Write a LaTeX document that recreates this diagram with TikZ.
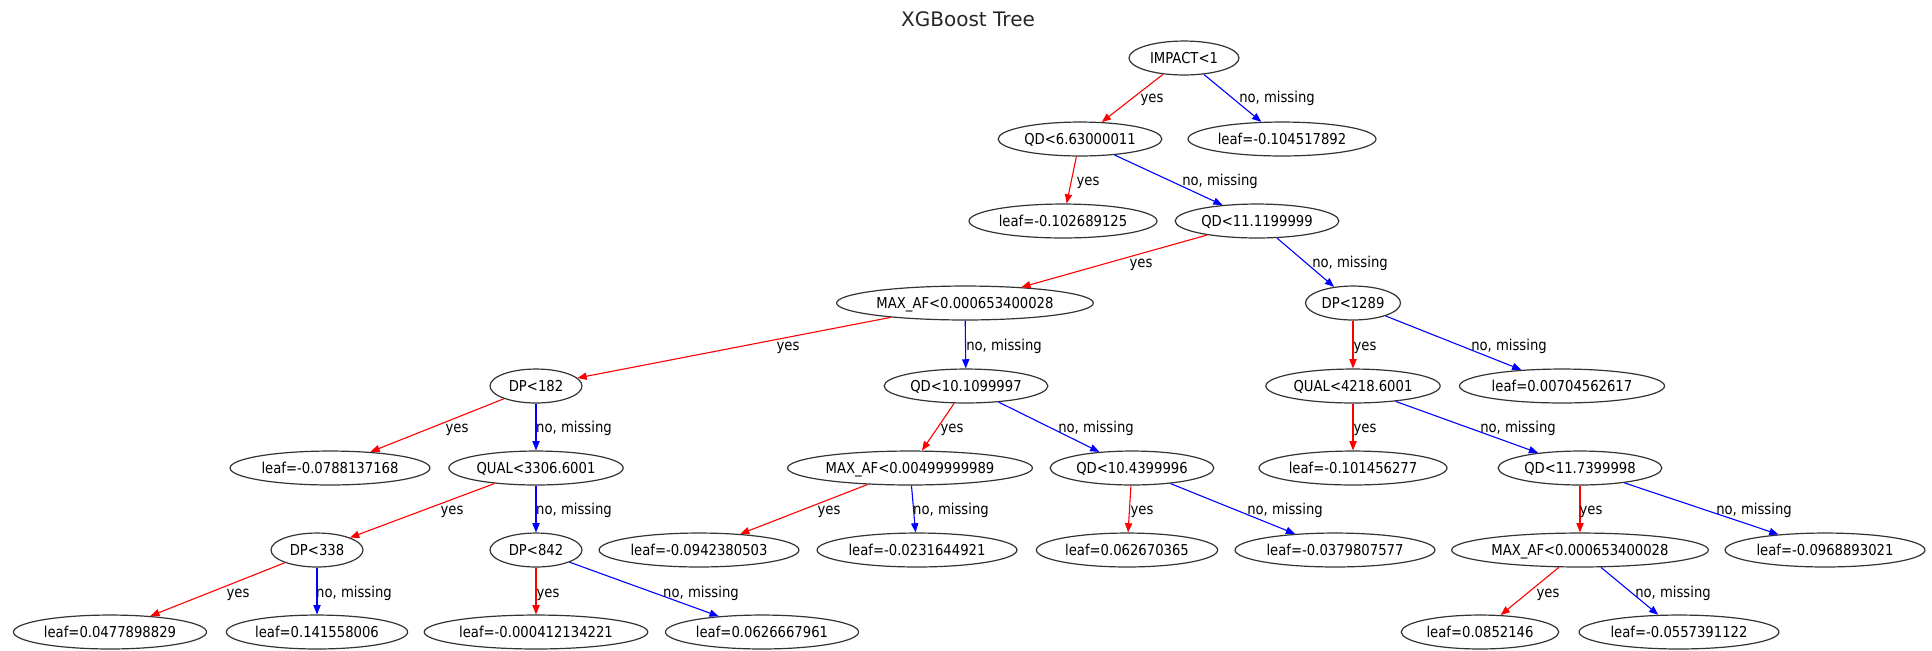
\documentclass[tikz,border=0pt]{standalone}
\usepackage{fontspec}
\setmainfont{DejaVu Sans}
\newfontfamily\gvfont[FakeStretch=0.88]{DejaVu Sans}
\usetikzlibrary{arrows.meta,shapes.geometric}
\begin{document}
\begin{tikzpicture}[x=0.5pt,y=-0.5pt,
  nd/.style={ellipse,draw=black!80,line width=0.6pt,inner xsep=1.1pt,inner ysep=1pt,
    minimum height=16.5pt,minimum width=46pt,text height=0.76em,text depth=0.24em,
    font=\gvfont\fontsize{7.5}{9}\selectfont},
  yesE/.style={draw=red,line width=0.55pt,-{Triangle[length=4.6pt,width=3.6pt,fill=red]}},
  noE/.style={draw=blue,line width=0.55pt,-{Triangle[length=4.6pt,width=3.6pt,fill=blue]}},
  lbl/.style={font=\gvfont\fontsize{7.5}{9}\selectfont,inner sep=0pt,text height=0.76em,text depth=0.24em}]
\useasboundingbox (0,0) rectangle (1932,650);
\node[font=\fontsize{10}{12}\selectfont,text=black!85] (title) at (968,19) {XGBoost Tree};
% nodes
\node[nd,minimum width=55pt] (n0) at (1184,58) {IMPACT<1};
\node[nd] (n1) at (1080,139) {QD<6.63000011};
\node[nd] (n2) at (1282,139) {leaf=-0.104517892};
\node[nd] (n3) at (1063,221) {leaf=-0.102689125};
\node[nd] (n4) at (1257,221) {QD<11.1199999};
\node[nd] (n5) at (965,303) {MAX\_AF<0.000653400028};
\node[nd] (n6) at (1353,303) {DP<1289};
\node[nd] (n7) at (536,386) {DP<182};
\node[nd] (n8) at (966,386) {QD<10.1099997};
\node[nd] (n9) at (1353,386) {QUAL<4218.6001};
\node[nd] (n10) at (1562,386) {leaf=0.00704562617};
\node[nd] (n11) at (330,468) {leaf=-0.0788137168};
\node[nd] (n12) at (536,468) {QUAL<3306.6001};
\node[nd] (n13) at (910,468) {MAX\_AF<0.00499999989};
\node[nd] (n14) at (1132,468) {QD<10.4399996};
\node[nd] (n15) at (1353,468) {leaf=-0.101456277};
\node[nd] (n16) at (1580,468) {QD<11.7399998};
\node[nd] (n17) at (317,550) {DP<338};
\node[nd] (n18) at (536,550) {DP<842};
\node[nd] (n19) at (699,550) {leaf=-0.0942380503};
\node[nd] (n20) at (917,550) {leaf=-0.0231644921};
\node[nd] (n21) at (1127,550) {leaf=0.062670365};
\node[nd] (n22) at (1335,550) {leaf=-0.0379807577};
\node[nd] (n23) at (1580,550) {MAX\_AF<0.000653400028};
\node[nd] (n24) at (1825,550) {leaf=-0.0968893021};
\node[nd] (n25) at (110,632) {leaf=0.0477898829};
\node[nd] (n26) at (317,632) {leaf=0.141558006};
\node[nd] (n27) at (536,632) {leaf=-0.000412134221};
\node[nd] (n28) at (762,632) {leaf=0.0626667961};
\node[nd] (n29) at (1480,632) {leaf=0.0852146};
\node[nd] (n30) at (1679,632) {leaf=-0.0557391122};
% edges
\draw[yesE] (n0) -- (n1); \draw[noE] (n0) -- (n2);
\draw[yesE] (n1) -- (n3); \draw[noE] (n1) -- (n4);
\draw[yesE] (n4) -- (n5); \draw[noE] (n4) -- (n6);
\draw[yesE] (n5) -- (n7); \draw[noE] (n5) -- (n8);
\draw[yesE] (n6) -- (n9); \draw[noE] (n6) -- (n10);
\draw[yesE] (n7) -- (n11); \draw[noE] (n7) -- (n12);
\draw[yesE] (n8) -- (n13); \draw[noE] (n8) -- (n14);
\draw[yesE] (n9) -- (n15); \draw[noE] (n9) -- (n16);
\draw[yesE] (n12) -- (n17); \draw[noE] (n12) -- (n18);
\draw[yesE] (n13) -- (n19); \draw[noE] (n13) -- (n20);
\draw[yesE] (n14) -- (n21); \draw[noE] (n14) -- (n22);
\draw[yesE] (n16) -- (n23); \draw[noE] (n16) -- (n24);
\draw[yesE] (n17) -- (n25); \draw[noE] (n17) -- (n26);
\draw[yesE] (n18) -- (n27); \draw[noE] (n18) -- (n28);
\draw[yesE] (n23) -- (n29); \draw[noE] (n23) -- (n30);
% edge labels
\node[lbl] (l1) at (1152,97) {yes};
\node[lbl] (l2) at (1277,97) {no, missing};
\node[lbl] (l3) at (1088,180) {yes};
\node[lbl] (l4) at (1220,180) {no, missing};
\node[lbl] (l5) at (1141,262) {yes};
\node[lbl] (l6) at (1350,262) {no, missing};
\node[lbl] (l7) at (788,345) {yes};
\node[lbl] (l8) at (1004,345) {no, missing};
\node[lbl] (l9) at (1365,345) {yes};
\node[lbl] (l10) at (1509,345) {no, missing};
\node[lbl] (l11) at (457,427) {yes};
\node[lbl] (l12) at (574,427) {no, missing};
\node[lbl] (l13) at (952,427) {yes};
\node[lbl] (l14) at (1096,427) {no, missing};
\node[lbl] (l15) at (1365,427) {yes};
\node[lbl] (l16) at (1518,427) {no, missing};
\node[lbl] (l17) at (452,509) {yes};
\node[lbl] (l18) at (574,509) {no, missing};
\node[lbl] (l19) at (829,509) {yes};
\node[lbl] (l20) at (951,509) {no, missing};
\node[lbl] (l21) at (1142,509) {yes};
\node[lbl] (l22) at (1285,509) {no, missing};
\node[lbl] (l23) at (1591,509) {yes};
\node[lbl] (l24) at (1754,509) {no, missing};
\node[lbl] (l25) at (238,592) {yes};
\node[lbl] (l26) at (354,592) {no, missing};
\node[lbl] (l27) at (548,592) {yes};
\node[lbl] (l28) at (701,592) {no, missing};
\node[lbl] (l29) at (1548,592) {yes};
\node[lbl] (l30) at (1673,592) {no, missing};
\end{tikzpicture}
\end{document}
